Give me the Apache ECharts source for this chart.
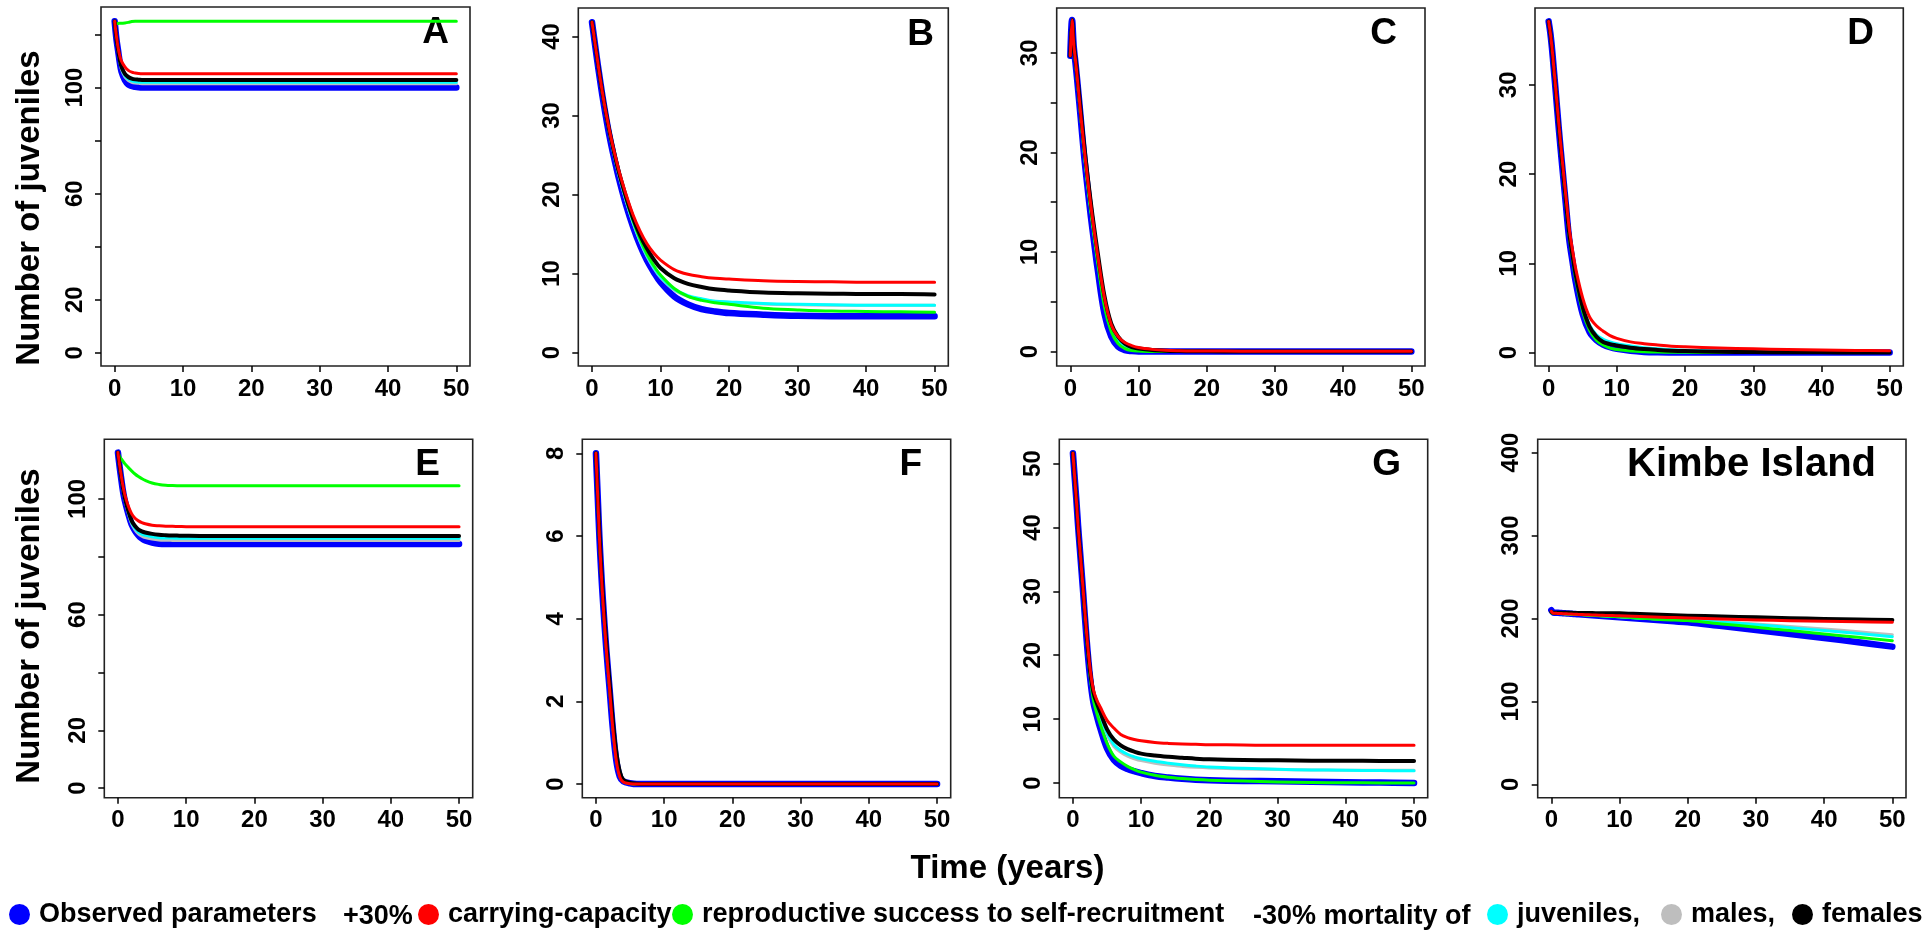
<!DOCTYPE html>
<html>
<head>
<meta charset="utf-8">
<script src="https://cdn.jsdelivr.net/npm/echarts@6/dist/echarts.min.js"></script>
<style>
html,body{margin:0;padding:0;background:#fff;}
#chart{width:1932px;height:935px;}
</style>
</head>
<body>
<div id="chart"></div>
<script>
// ---------------- DATA ----------------
const T = [0, 0.25, 0.5, 0.75, 1, 1.5, 2, 2.5, 3, 3.5, 4, 5, 6, 7, 8, 9, 10, 12, 14, 16, 18, 20, 25, 30, 35, 40, 45, 50];
const xTicks = [0, 10, 20, 30, 40, 50];

const A_blue  = [125,118.5,114,109.5,106,102.8,101.2,100.6,100.3,100.1,100,100,100,100,100,100,100,100,100,100,100,100,100,100,100,100,100,100];
const A_red   = [125,119.5,115,112,110,107.8,106.5,105.8,105.5,105.3,105.2,105.2,105.2,105.2,105.2,105.2,105.2,105.2,105.2,105.2,105.2,105.2,105.2,105.2,105.2,105.2,105.2,105.2];
const A_black = [125,118.8,114.3,110.5,107.8,105.2,104,103.4,103.1,103,102.9,102.9,102.9,102.9,102.9,102.9,102.9,102.9,102.9,102.9,102.9,102.9,102.9,102.9,102.9,102.9,102.9,102.9];
const A_cyan  = [125,118.6,114.1,110,107.2,104.5,103.2,102.5,102.2,102.1,102,102,102,102,102,102,102,102,102,102,102,102,102,102,102,102,102,102];
const A_gray  = [125,118.5,114,109.8,106.8,104,102.7,102,101.7,101.6,101.5,101.5,101.5,101.5,101.5,101.5,101.5,101.5,101.5,101.5,101.5,101.5,101.5,101.5,101.5,101.5,101.5,101.5];
const A_green = [125,124.2,124.2,124.3,124.3,124.4,124.6,124.9,125,125,125,125,125,125,125,125,125,125,125,125,125,125,125,125,125,125,125,125];

const B_blue  = [41.8,40.2,38.6,37.0,35.5,32.6,30.0,27.6,25.5,23.6,21.8,18.6,15.9,13.6,11.7,10.2,8.9,7.1,6.1,5.5,5.2,5.0,4.8,4.65,4.6,4.6,4.6,4.6];
const B_red   = [41.8,40.3,38.8,37.3,35.8,33.0,30.5,28.3,26.3,24.5,22.8,19.9,17.4,15.4,13.8,12.6,11.7,10.5,9.9,9.6,9.4,9.3,9.1,9.0,8.95,8.9,8.9,8.9];
const B_black = [41.8,40.3,38.8,37.3,35.8,33.0,30.5,28.2,26.2,24.3,22.6,19.6,17.0,14.9,13.2,11.8,10.7,9.4,8.7,8.3,8.0,7.85,7.6,7.5,7.45,7.4,7.4,7.35];
const B_cyan  = [41.8,40.3,38.8,37.2,35.7,32.9,30.3,28.0,25.9,24.0,22.3,19.2,16.5,14.2,12.3,10.8,9.6,8.0,7.2,6.8,6.5,6.4,6.2,6.1,6.05,6.0,6.0,6.0];
const B_gray  = [41.8,40.3,38.8,37.2,35.7,32.9,30.3,28.0,25.9,24.0,22.2,19.1,16.4,14.1,12.2,10.7,9.5,7.9,7.1,6.7,6.45,6.35,6.15,6.05,6.0,6.0,6.0,6.0];
const B_green = [41.8,40.3,38.8,37.3,35.8,33.0,30.5,28.2,26.1,24.2,22.5,19.4,16.7,14.4,12.5,11.0,9.8,8.1,7.1,6.6,6.3,6.1,5.6,5.4,5.25,5.2,5.15,5.1];

const C_blue  = [29.7,33.3,30.6,29.0,27.3,23.6,19.8,16.6,13.6,10.9,8.3,3.8,1.5,0.5,0.15,0.05,0,0,0,0,0,0,0,0,0,0,0,0];
const C_red   = [29.7,33.3,30.8,29.3,27.6,24.0,20.6,17.5,14.7,12.1,9.7,5.4,2.7,1.5,0.9,0.6,0.4,0.22,0.12,0.08,0.06,0.05,0.04,0.03,0.02,0.02,0.02,0.02];
const C_black = [29.7,33.3,30.9,29.4,27.8,24.3,20.9,17.8,15.0,12.4,10.0,5.6,2.8,1.5,0.8,0.45,0.3,0.15,0.08,0.05,0.03,0.02,0.01,0,0,0,0,0];
const C_cyan  = [29.7,33.3,30.8,29.2,27.5,23.9,20.4,17.2,14.4,11.8,9.4,5.0,2.4,1.2,0.6,0.35,0.2,0.1,0.05,0.03,0.02,0.01,0,0,0,0,0,0];
const C_gray  = [29.7,33.3,30.8,29.2,27.5,23.9,20.3,17.1,14.3,11.7,9.3,4.9,2.3,1.1,0.55,0.3,0.17,0.08,0.04,0.02,0.01,0,0,0,0,0,0,0];
const C_green = [29.7,33.3,30.7,29.1,27.4,23.8,20.2,17.0,14.1,11.5,9.0,4.5,2.0,0.8,0.3,0.1,0.05,0,0,0,0,0,0,0,0,0,0,0];

const D_blue  = [37.1,35.8,34.0,31.8,29.6,25.0,20.8,16.8,12.8,10.2,7.8,4.3,2.3,1.4,0.9,0.6,0.42,0.2,0.08,0.03,0.01,0,0,0,0,0,0,0];
const D_red   = [37.1,35.8,34.1,32.0,29.9,25.5,21.5,17.7,14.0,11.5,9.3,6.1,4.0,3.0,2.4,1.9,1.6,1.2,1.0,0.85,0.72,0.65,0.52,0.42,0.35,0.3,0.25,0.22];
const D_black = [37.1,35.8,34.0,31.9,29.8,25.3,21.2,17.3,13.5,10.9,8.6,5.1,2.9,1.8,1.2,0.95,0.8,0.55,0.4,0.3,0.22,0.17,0.1,0.06,0.04,0.03,0.02,0.02];
const D_cyan  = [37.1,35.8,34.0,31.9,29.8,25.3,21.2,17.3,13.6,11.0,8.7,5.3,3.1,2.0,1.5,1.2,1.0,0.75,0.55,0.42,0.33,0.27,0.17,0.12,0.09,0.07,0.05,0.04];
const D_gray  = [37.1,35.8,34.0,31.9,29.8,25.3,21.1,17.2,13.4,10.8,8.5,5.1,2.9,1.8,1.3,1.0,0.85,0.62,0.45,0.34,0.27,0.22,0.14,0.1,0.07,0.05,0.04,0.03];
const D_green = [37.1,35.8,34.0,31.8,29.7,25.1,20.9,17.0,13.1,10.5,8.1,4.6,2.5,1.4,0.85,0.5,0.35,0.18,0.1,0.06,0.04,0.03,0.02,0.01,0,0,0,0];

const E_blue  = [116,111,106.6,102.5,99.5,95,91.2,89,87.4,86.3,85.6,84.9,84.5,84.4,84.4,84.4,84.4,84.4,84.4,84.4,84.4,84.4,84.4,84.4,84.4,84.4,84.4,84.4];
const E_red   = [116,111.6,107.7,104.3,101.6,97.6,94.9,93.3,92.4,91.8,91.4,90.9,90.7,90.55,90.5,90.45,90.4,90.4,90.4,90.4,90.4,90.4,90.4,90.4,90.4,90.4,90.4,90.4];
const E_black = [116,111.3,107.2,103.5,100.5,96,92.5,90.6,89.4,88.8,88.4,87.9,87.6,87.45,87.35,87.3,87.25,87.2,87.2,87.2,87.2,87.2,87.2,87.2,87.2,87.2,87.2,87.2];
const E_cyan  = [116,111.2,107.0,103.2,100.1,95.5,91.8,89.8,88.5,87.8,87.4,86.9,86.6,86.5,86.45,86.4,86.4,86.4,86.4,86.4,86.4,86.4,86.4,86.4,86.4,86.4,86.4,86.4];
const E_gray  = [116,111.1,106.8,102.9,99.8,95.2,91.4,89.3,87.9,87.1,86.6,86.1,85.8,85.7,85.65,85.6,85.6,85.6,85.6,85.6,85.6,85.6,85.6,85.6,85.6,85.6,85.6,85.6];
const E_green = [116,114.6,113.8,113.0,112.2,110.9,109.7,108.6,107.7,107.0,106.4,105.5,105.0,104.7,104.6,104.55,104.5,104.5,104.5,104.5,104.5,104.5,104.5,104.5,104.5,104.5,104.5,104.5];

const F_blue  = [8.0,7.0,6.0,5.2,4.5,3.3,2.3,1.3,0.55,0.18,0.07,0.02,0,0,0,0,0,0,0,0,0,0,0,0,0,0,0,0];
const F_red   = [8.0,7.0,6.0,5.2,4.5,3.3,2.3,1.3,0.55,0.17,0.05,0.01,0,0,0,0,0,0,0,0,0,0,0,0,0,0,0,0];
const F_black = [8.0,7.05,6.1,5.3,4.6,3.45,2.45,1.5,0.75,0.3,0.1,0.03,0.01,0,0,0,0,0,0,0,0,0,0,0,0,0,0,0];
const F_cyan  = [8.0,7.02,6.05,5.25,4.55,3.38,2.38,1.4,0.65,0.24,0.08,0.02,0,0,0,0,0,0,0,0,0,0,0,0,0,0,0,0];
const F_gray  = [8.0,7.02,6.05,5.25,4.55,3.38,2.38,1.4,0.65,0.24,0.08,0.02,0,0,0,0,0,0,0,0,0,0,0,0,0,0,0,0];
const F_green = [8.0,7.0,6.0,5.2,4.5,3.32,2.32,1.35,0.6,0.2,0.06,0.01,0,0,0,0,0,0,0,0,0,0,0,0,0,0,0,0];

const G_blue  = [51.6,47.9,44.3,40.3,36.8,29.8,22.5,16.6,12.6,10.5,8.6,5.4,3.6,2.7,2.2,1.85,1.55,1.1,0.85,0.65,0.5,0.42,0.33,0.28,0.2,0.12,0.06,0];
const G_red   = [51.6,47.9,44.3,40.3,36.9,30.2,23.5,18.0,14.6,13.0,11.9,9.8,8.6,7.6,7.1,6.8,6.6,6.35,6.2,6.1,6.05,6.0,5.95,5.9,5.9,5.9,5.9,5.9];
const G_black = [51.6,47.9,44.3,40.3,36.9,30.1,23.3,17.6,14.2,12.5,11.1,8.4,6.8,5.9,5.3,4.9,4.6,4.3,4.1,3.95,3.8,3.7,3.6,3.55,3.5,3.48,3.46,3.44];
const G_cyan  = [51.6,47.9,44.3,40.3,36.9,30.0,23.1,17.3,13.8,11.9,10.4,7.8,6.0,5.1,4.5,4.1,3.8,3.4,3.1,2.85,2.65,2.5,2.3,2.15,2.05,2.0,1.95,1.9];
const G_gray  = [51.6,47.9,44.3,40.3,36.9,30.0,23.0,17.1,13.6,11.7,10.2,7.5,5.7,4.8,4.2,3.8,3.5,3.1,2.8,2.6,2.45,2.35,2.2,2.1,2.05,2.0,2.0,2.0];
const G_green = [51.6,47.9,44.3,40.3,36.8,29.9,22.8,16.9,13.0,10.9,9.2,6.2,4.2,3.3,2.6,2.1,1.7,1.2,0.9,0.7,0.55,0.45,0.3,0.15,0.08,0.04,0.02,0];

const K_blue  = [210,207.5,207,206.9,206.8,206.5,206.2,206,205.7,205.4,205.1,204.6,204,203.4,202.8,202.1,201.4,200.2,199,197.8,196.6,195.4,190.8,186.2,181.4,176.5,171.3,166.1];
const K_red   = [208.6,206.5,206.3,206.2,206.1,205.9,205.7,205.5,205.3,205.1,204.9,204.6,204.3,204,203.7,203.5,203.4,202.8,202.2,201.6,201.1,200.6,199.4,198.2,197.4,196.6,196,195.4];
const K_black = [208,207,207,207,207,206.9,206.9,206.8,206.8,206.7,206.7,206.6,206.5,206.4,206.3,206.2,206.2,205.6,205,204.4,203.9,203.4,202.4,201.4,200.4,199.4,198.8,198.2];
const K_cyan  = [207.5,206.5,206.4,206.3,206.2,206,205.8,205.6,205.4,205.2,205,204.5,204,203.5,203,202.6,202.2,201,200.1,199.3,198.8,198.4,195.6,192.6,189,185.4,181.8,178.1];
const K_gray  = [207.5,206.5,206.4,206.3,206.2,206,205.8,205.6,205.4,205.2,205,204.5,204,203.5,203,202.6,202.2,201.1,200.2,199.5,199,198.6,196,193.4,190.4,187.4,184,180.5];
const K_green = [207.5,206.3,206.2,206.1,206,205.8,205.6,205.4,205.2,205,204.8,204.3,203.8,203.3,202.9,202.5,202.2,201,199.9,198.9,198.2,197.6,193.5,189.4,185.4,181.3,177.3,173.3];

// y tick values (all ticks) and labelled ticks per panel
const A_yTicks = [0,20,40,60,80,100,120], A_yLabels = [0,20,60,100];
const B_yTicks = [0,10,20,30,40],          B_yLabels = [0,10,20,30,40];
const C_yTicks = [0,5,10,15,20,25,30],     C_yLabels = [0,10,20,30];
const D_yTicks = [0,10,20,30],             D_yLabels = [0,10,20,30];
const E_yTicks = [0,20,40,60,80,100],      E_yLabels = [0,20,60,100];
const F_yTicks = [0,2,4,6,8],              F_yLabels = [0,2,4,6,8];
const G_yTicks = [0,10,20,30,40,50],       G_yLabels = [0,10,20,30,40,50];
const K_yTicks = [0,100,200,300,400],      K_yLabels = [0,100,200,300,400];

const panelLabels = ['A','B','C','D','E','F','G','Kimbe Island'];
const seriesNames = {
  blue: 'Observed parameters', red: 'carrying-capacity',
  green: 'reproductive success to self-recruitment',
  cyan: 'juveniles', gray: 'males', black: 'females'
};

// ---------------- LAYOUT / STYLE ----------------
const FONT = '"Liberation Sans", Arial, Helvetica, sans-serif';
const colors = {blue:'#0000FF', gray:'#BEBEBE', cyan:'#00FFFF', green:'#00FF00', black:'#000000', red:'#FF0000'};
const widths = {blue:6.5, gray:3, cyan:3, green:3, black:4, red:3};
const order = ['blue','gray','cyan','green','black','red'];

const panels = [
  {grid:[101, 7, 369, 359],       y:[-5, 130.4],   t:A_yTicks, l:A_yLabels, d:{blue:A_blue,red:A_red,black:A_black,cyan:A_cyan,gray:A_gray,green:A_green}},
  {grid:[578.3, 8, 370, 358],     y:[-1.7, 43.6],  t:B_yTicks, l:B_yLabels, d:{blue:B_blue,red:B_red,black:B_black,cyan:B_cyan,gray:B_gray,green:B_green}},
  {grid:[1056.7, 8, 368.3, 358],  y:[-1.45, 34.5], t:C_yTicks, l:C_yLabels, d:{blue:C_blue,red:C_red,black:C_black,cyan:C_cyan,gray:C_gray,green:C_green}},
  {grid:[1535, 8, 368.3, 358],    y:[-1.5, 38.6],  t:D_yTicks, l:D_yLabels, d:{blue:D_blue,red:D_red,black:D_black,cyan:D_cyan,gray:D_gray,green:D_green}},
  {grid:[104.3, 439.3, 368.4, 358.4], y:[-3.3, 120.6], t:E_yTicks, l:E_yLabels, d:{blue:E_blue,red:E_red,black:E_black,cyan:E_cyan,gray:E_gray,green:E_green}},
  {grid:[582.3, 439.3, 368.4, 358.4], y:[-0.33, 8.34], t:F_yTicks, l:F_yLabels, d:{blue:F_blue,red:F_red,black:F_black,cyan:F_cyan,gray:F_gray,green:F_green}},
  {grid:[1059.3, 439.3, 368.4, 358.4], y:[-2.3, 53.8], t:G_yTicks, l:G_yLabels, d:{blue:G_blue,red:G_red,black:G_black,cyan:G_cyan,gray:G_gray,green:G_green}},
  {grid:[1537.7, 439.3, 368.3, 358.4], y:[-16, 416],   t:K_yTicks, l:K_yLabels, d:{blue:K_blue,red:K_red,black:K_black,cyan:K_cyan,gray:K_gray,green:K_green}}
];

const grids = [], xAxes = [], yAxes = [], series = [];
panels.forEach((p, i) => {
  grids.push({left:p.grid[0], top:p.grid[1], width:p.grid[2], height:p.grid[3],
    show:true, borderColor:'#222', borderWidth:1.6, backgroundColor:'transparent', containLabel:false});
  xAxes.push({type:'value', gridIndex:i, min:-2, max:52, position:'bottom',
    axisLine:{show:false, onZero:false}, splitLine:{show:false},
    axisTick:{show:true, inside:false, customValues:xTicks, length:6, lineStyle:{color:'#000', width:1.5}},
    axisLabel:{customValues:xTicks, color:'#000', fontWeight:'bold', fontSize:24, fontFamily:FONT, margin:11}});
  yAxes.push({type:'value', gridIndex:i, min:p.y[0], max:p.y[1], position:'left',
    axisLine:{show:false, onZero:false}, splitLine:{show:false},
    axisTick:{show:true, inside:false, customValues:p.t, length:6, lineStyle:{color:'#000', width:1.5}},
    axisLabel:{customValues:p.l, rotate:90, color:'#000', fontWeight:'bold', fontSize:24, fontFamily:FONT, margin:14}});
  order.forEach(k => {
    const vals = p.d[k];
    series.push({type:'line', name:seriesNames[k], xAxisIndex:i, yAxisIndex:i,
      data:T.map((t, j) => [t, vals[j]]),
      showSymbol:false, smooth:0.35,
      lineStyle:{color:colors[k], width:widths[k], join:'round', cap:'round'},
      itemStyle:{color:colors[k]},
      emphasis:{disabled:true}, silent:true});
  });
});

function legendItem(key, left, text) {
  return {show:true, data:[seriesNames[key]], left:left, top:901, orient:'horizontal',
    icon:'circle', itemWidth:29, itemHeight:21, symbolKeepAspect:true, padding:0, selectedMode:false,
    formatter:() => text,
    textStyle:{color:'#000', fontWeight:'bold', fontSize:27, fontFamily:FONT}};
}

const letterFont = 'bold 37px ' + FONT;
function letter(txt, x, y, font) {
  return {type:'text', x:x, y:y, silent:true,
    style:{text:txt, font:font || letterFont, fill:'#000', align:'right', textAlign:'right', verticalAlign:'middle', textVerticalAlign:'middle'}};
}
function legendText(txt, x) {
  return {type:'text', x:x, y:917, silent:true,
    style:{text:txt, font:'bold 27px ' + FONT, fill:'#000', align:'left', textAlign:'left', verticalAlign:'middle', textVerticalAlign:'middle'}};
}

const option = {
  backgroundColor:'#fff',
  animation:false,
  grid:grids, xAxis:xAxes, yAxis:yAxes, series:series,
  legend:[
    legendItem('blue', 9, 'Observed parameters'),
    legendItem('red', 418, 'carrying-capacity'),
    legendItem('green', 672, 'reproductive success to self-recruitment'),
    legendItem('cyan', 1487, 'juveniles,'),
    legendItem('gray', 1661, 'males,'),
    legendItem('black', 1792, 'females')
  ],
  graphic:[
    letter(panelLabels[0], 449, 33),
    letter(panelLabels[1], 934, 35),
    letter(panelLabels[2], 1397, 34),
    letter(panelLabels[3], 1874, 34),
    letter(panelLabels[4], 440, 465),
    letter(panelLabels[5], 922, 465),
    letter(panelLabels[6], 1401, 465),
    letter(panelLabels[7], 1876, 465, 'bold 40px ' + FONT),
    legendText('+30%', 343),
    legendText('-30% mortality of', 1253),
    {type:'text', x:30, y:208, rotation:Math.PI/2, silent:true,
      style:{text:'Number of juveniles', font:'bold 33px ' + FONT, fill:'#000', align:'center', textAlign:'center', verticalAlign:'middle', textVerticalAlign:'middle'}},
    {type:'text', x:30, y:626, rotation:Math.PI/2, silent:true,
      style:{text:'Number of juveniles', font:'bold 33px ' + FONT, fill:'#000', align:'center', textAlign:'center', verticalAlign:'middle', textVerticalAlign:'middle'}},
    {type:'text', x:1007.5, y:868.5, silent:true,
      style:{text:'Time (years)', font:'bold 33px ' + FONT, fill:'#000', align:'center', textAlign:'center', verticalAlign:'middle', textVerticalAlign:'middle'}}
  ]
};

const chart = echarts.init(document.getElementById('chart'), null, {renderer:'canvas'});
chart.setOption(option);
</script>
</body>
</html>
